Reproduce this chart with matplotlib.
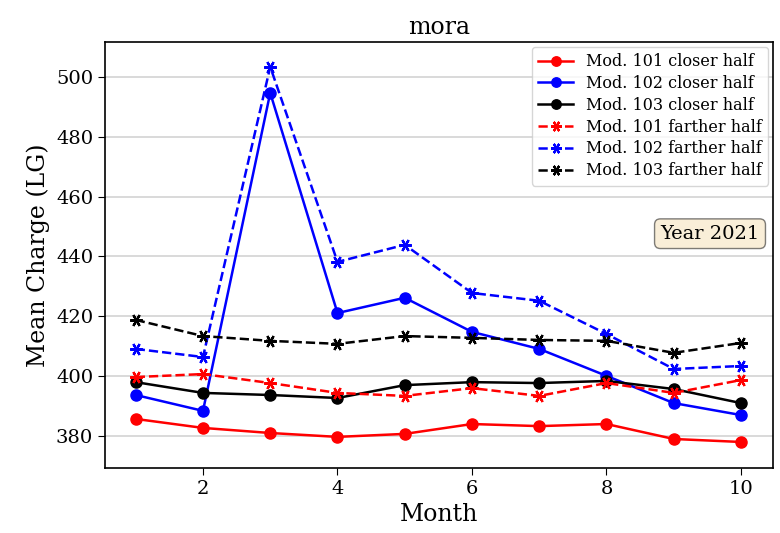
import matplotlib
matplotlib.use("Agg")
import matplotlib.pyplot as plt

months = [1, 2, 3, 4, 5, 6, 7, 8, 9, 10]
mod101_closer = [385.7, 382.7, 381.0, 379.7, 380.7, 384.0, 383.3, 384.0, 379.0, 378.0]
mod102_closer = [393.7, 388.4, 494.7, 421.1, 426.2, 414.8, 409.1, 400.1, 391.0, 387.0]
mod103_closer = [398.0, 394.4, 393.7, 392.7, 397.0, 398.0, 397.7, 398.4, 395.7, 391.0]
mod101_farther = [399.7, 400.7, 397.7, 394.4, 393.4, 396.0, 393.4, 397.7, 394.4, 398.7]
mod102_farther = [409.1, 406.4, 503.4, 438.2, 443.9, 427.8, 425.2, 414.1, 402.4, 403.4]
mod103_farther = [418.8, 413.4, 411.8, 410.8, 413.4, 412.8, 412.1, 411.8, 407.8, 411.1]

plt.rcParams['font.family'] = 'DejaVu Serif'

fig = plt.figure(figsize=(7.8, 5.33), dpi=100)
ax = fig.add_axes([105/780, 1 - 468/533, (773-105)/780, (468-42)/533])

ast = (6, 2, 90)
ax.plot(months, mod101_closer, color='red', marker='o', ms=8, lw=1.8, label='Mod. 101 closer half')
ax.plot(months, mod102_closer, color='blue', marker='o', ms=8, lw=1.8, label='Mod. 102 closer half')
ax.plot(months, mod103_closer, color='black', marker='o', ms=8, lw=1.8, label='Mod. 103 closer half')
ax.plot(months, mod101_farther, color='red', marker=ast, ms=9, mew=1.6, lw=1.8, ls='--', label='Mod. 101 farther half')
ax.plot(months, mod102_farther, color='blue', marker=ast, ms=9, mew=1.6, lw=1.8, ls='--', label='Mod. 102 farther half')
ax.plot(months, mod103_farther, color='black', marker=ast, ms=9, mew=1.6, lw=1.8, ls='--', label='Mod. 103 farther half')

ax.set_xlim(0.543, 10.476)
ax.set_ylim(369.3, 511.7)
ax.set_xticks([2, 4, 6, 8, 10])
ax.set_yticks([380, 400, 420, 440, 460, 480, 500])
ax.yaxis.grid(True, color='lightgray', lw=1.2)
ax.set_axisbelow(True)
ax.tick_params(labelsize=14, length=5)
ax.set_xlabel('Month', fontsize=17)
ax.set_ylabel('Mean Charge (LG)', fontsize=17)
ax.set_title('mora', fontsize=17)
for s in ax.spines.values():
    s.set_linewidth(1.2)

ax.legend(loc='upper right', fontsize=11.5, handlelength=2.2, markerscale=0.85,
          labelspacing=0.3, borderaxespad=0.3)
ax.text(0.98, 0.55, 'Year 2021', transform=ax.transAxes, ha='right', va='center', fontsize=14,
        bbox=dict(boxstyle='round', facecolor='wheat', alpha=0.5))

fig.savefig('out.png', dpi=100)
